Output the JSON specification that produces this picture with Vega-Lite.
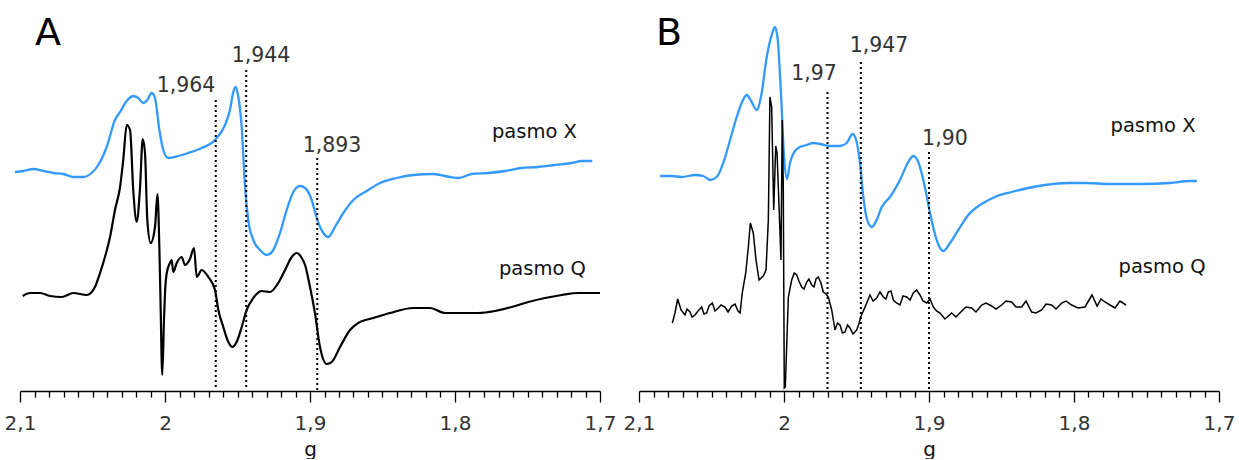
{
  "$schema": "https://vega.github.io/schema/vega-lite/v6.json",
  "padding": {"left": 4, "top": 11, "right": 5, "bottom": 0},
  "spacing": 39,
  "bounds": "flush",
  "config": {"view": {"stroke": null}, "font": "DejaVu Sans"},
  "datasets": {
    "AX": [
      {"g":2.1034,"i":219},{"g":2.0977,"i":220},{"g":2.0908,"i":222},{"g":2.0839,"i":220},{"g":2.0770,"i":218},{"g":2.0701,"i":217},{"g":2.0632,"i":214},{"g":2.0563,"i":214},{"g":2.0506,"i":218},{"g":2.0460,"i":226},{"g":2.0402,"i":244},{"g":2.0345,"i":271},{"g":2.0310,"i":279},{"g":2.0264,"i":290},{"g":2.0219,"i":295},{"g":2.0184,"i":293},{"g":2.0150,"i":288},{"g":2.0122,"i":291},{"g":2.0092,"i":298},{"g":2.0069,"i":293},{"g":2.0039,"i":261},{"g":2.0012,"i":241},{"g":1.9977,"i":233},{"g":1.9908,"i":235},{"g":1.9839,"i":238},{"g":1.9747,"i":243},{"g":1.9655,"i":251},{"g":1.9586,"i":266},{"g":1.9552,"i":281},{"g":1.9529,"i":299},{"g":1.9512,"i":304},{"g":1.9494,"i":294},{"g":1.9471,"i":264},{"g":1.9448,"i":204},{"g":1.9426,"i":171},{"g":1.9391,"i":151},{"g":1.9345,"i":141},{"g":1.9299,"i":136},{"g":1.9253,"i":141},{"g":1.9207,"i":158},{"g":1.9161,"i":181},{"g":1.9115,"i":199},{"g":1.9069,"i":205},{"g":1.9034,"i":203},{"g":1.8988,"i":191},{"g":1.8954,"i":173},{"g":1.8908,"i":158},{"g":1.8874,"i":154},{"g":1.8828,"i":164},{"g":1.8770,"i":178},{"g":1.8701,"i":191},{"g":1.8609,"i":200},{"g":1.8517,"i":208},{"g":1.8402,"i":213},{"g":1.8288,"i":216},{"g":1.8150,"i":217},{"g":1.8034,"i":214},{"g":1.7977,"i":213},{"g":1.7885,"i":217},{"g":1.7770,"i":218},{"g":1.7655,"i":220},{"g":1.7540,"i":223},{"g":1.7426,"i":224},{"g":1.7310,"i":226},{"g":1.7195,"i":228},{"g":1.7126,"i":230},{"g":1.7053,"i":230}
    ],
    "AQ": [
      {"g":2.0981,"i":95},{"g":2.0931,"i":98},{"g":2.0862,"i":98},{"g":2.0793,"i":95},{"g":2.0712,"i":94},{"g":2.0632,"i":98},{"g":2.0540,"i":96},{"g":2.0483,"i":104},{"g":2.0448,"i":118},{"g":2.0414,"i":134},{"g":2.0379,"i":154},{"g":2.0345,"i":181},{"g":2.0310,"i":204},{"g":2.0288,"i":231},{"g":2.0264,"i":266},{"g":2.0241,"i":261},{"g":2.0219,"i":201},{"g":2.0195,"i":169},{"g":2.0172,"i":204},{"g":2.0154,"i":252},{"g":2.0138,"i":238},{"g":2.0122,"i":171},{"g":2.0099,"i":148},{"g":2.0069,"i":164},{"g":2.0052,"i":197},{"g":2.0039,"i":144},{"g":2.0031,"i":91},{"g":2.0019,"i":16},{"g":2.0007,"i":71},{"g":2.0000,"i":98},{"g":1.9988,"i":118},{"g":1.9966,"i":128},{"g":1.9954,"i":131},{"g":1.9943,"i":119},{"g":1.9919,"i":128},{"g":1.9885,"i":134},{"g":1.9862,"i":126},{"g":1.9828,"i":132},{"g":1.9800,"i":143},{"g":1.9781,"i":114},{"g":1.9747,"i":121},{"g":1.9701,"i":114},{"g":1.9655,"i":101},{"g":1.9632,"i":81},{"g":1.9598,"i":64},{"g":1.9563,"i":49},{"g":1.9536,"i":44},{"g":1.9506,"i":49},{"g":1.9471,"i":64},{"g":1.9437,"i":81},{"g":1.9391,"i":93},{"g":1.9333,"i":100},{"g":1.9276,"i":99},{"g":1.9219,"i":108},{"g":1.9172,"i":121},{"g":1.9126,"i":134},{"g":1.9092,"i":138},{"g":1.9057,"i":133},{"g":1.9034,"i":126},{"g":1.9000,"i":104},{"g":1.8966,"i":78},{"g":1.8931,"i":44},{"g":1.8885,"i":27},{"g":1.8850,"i":29},{"g":1.8793,"i":44},{"g":1.8724,"i":61},{"g":1.8667,"i":68},{"g":1.8563,"i":73},{"g":1.8448,"i":78},{"g":1.8288,"i":83},{"g":1.8172,"i":83},{"g":1.8069,"i":78},{"g":1.7954,"i":78},{"g":1.7839,"i":78},{"g":1.7724,"i":80},{"g":1.7609,"i":84},{"g":1.7494,"i":89},{"g":1.7379,"i":93},{"g":1.7264,"i":96},{"g":1.7150,"i":98},{"g":1.7000,"i":98}
    ],
    "BX": [
      {"g":2.0855,"i":215},{"g":2.0774,"i":215},{"g":2.0706,"i":214},{"g":2.0614,"i":216},{"g":2.0557,"i":215},{"g":2.0510,"i":211},{"g":2.0464,"i":214},{"g":2.0419,"i":228},{"g":2.0372,"i":251},{"g":2.0326,"i":274},{"g":2.0292,"i":288},{"g":2.0257,"i":296},{"g":2.0223,"i":289},{"g":2.0188,"i":281},{"g":2.0154,"i":298},{"g":2.0119,"i":334},{"g":2.0085,"i":356},{"g":2.0062,"i":364},{"g":2.0043,"i":351},{"g":2.0021,"i":298},{"g":1.9998,"i":231},{"g":1.9979,"i":212},{"g":1.9959,"i":228},{"g":1.9929,"i":239},{"g":1.9890,"i":244},{"g":1.9843,"i":246},{"g":1.9798,"i":248},{"g":1.9752,"i":247},{"g":1.9683,"i":245},{"g":1.9614,"i":245},{"g":1.9568,"i":248},{"g":1.9526,"i":257},{"g":1.9499,"i":249},{"g":1.9476,"i":228},{"g":1.9453,"i":194},{"g":1.9426,"i":171},{"g":1.9395,"i":164},{"g":1.9361,"i":171},{"g":1.9326,"i":184},{"g":1.9269,"i":194},{"g":1.9200,"i":211},{"g":1.9143,"i":229},{"g":1.9108,"i":235},{"g":1.9074,"i":229},{"g":1.9039,"i":211},{"g":1.8993,"i":178},{"g":1.8947,"i":151},{"g":1.8931,"i":145},{"g":1.8901,"i":140},{"g":1.8855,"i":148},{"g":1.8798,"i":161},{"g":1.8729,"i":176},{"g":1.8637,"i":187},{"g":1.8545,"i":194},{"g":1.8430,"i":199},{"g":1.8315,"i":203},{"g":1.8200,"i":206},{"g":1.8039,"i":208},{"g":1.7924,"i":208},{"g":1.7752,"i":207},{"g":1.7545,"i":207},{"g":1.7338,"i":208},{"g":1.7200,"i":210},{"g":1.7152,"i":210}
    ],
    "BQ": [
      {"g":2.0770,"i":68},{"g":2.0752,"i":78},{"g":2.0733,"i":92},{"g":2.0710,"i":81},{"g":2.0683,"i":76},{"g":2.0669,"i":82},{"g":2.0648,"i":79},{"g":2.0634,"i":74},{"g":2.0614,"i":76},{"g":2.0593,"i":80},{"g":2.0568,"i":84},{"g":2.0552,"i":77},{"g":2.0533,"i":78},{"g":2.0517,"i":85},{"g":2.0494,"i":88},{"g":2.0476,"i":80},{"g":2.0453,"i":83},{"g":2.0434,"i":86},{"g":2.0407,"i":84},{"g":2.0386,"i":79},{"g":2.0361,"i":85},{"g":2.0338,"i":87},{"g":2.0317,"i":80},{"g":2.0303,"i":78},{"g":2.0288,"i":98},{"g":2.0264,"i":118},{"g":2.0246,"i":144},{"g":2.0232,"i":168},{"g":2.0212,"i":158},{"g":2.0193,"i":131},{"g":2.0172,"i":111},{"g":2.0143,"i":115},{"g":2.0124,"i":121},{"g":2.0108,"i":171},{"g":2.0097,"i":294},{"g":2.0085,"i":284},{"g":2.0071,"i":181},{"g":2.0057,"i":245},{"g":2.0048,"i":238},{"g":2.0034,"i":184},{"g":2.0021,"i":131},{"g":2.0012,"i":271},{"g":2.0005,"i":204},{"g":1.9998,"i":3},{"g":1.9991,"i":4},{"g":1.9970,"i":94},{"g":1.9947,"i":111},{"g":1.9929,"i":118},{"g":1.9912,"i":116},{"g":1.9897,"i":110},{"g":1.9878,"i":104},{"g":1.9862,"i":102},{"g":1.9843,"i":109},{"g":1.9828,"i":112},{"g":1.9809,"i":106},{"g":1.9793,"i":104},{"g":1.9779,"i":112},{"g":1.9763,"i":114},{"g":1.9745,"i":108},{"g":1.9729,"i":99},{"g":1.9710,"i":97},{"g":1.9694,"i":94},{"g":1.9671,"i":81},{"g":1.9648,"i":61},{"g":1.9631,"i":68},{"g":1.9614,"i":66},{"g":1.9597,"i":58},{"g":1.9579,"i":59},{"g":1.9562,"i":66},{"g":1.9545,"i":63},{"g":1.9524,"i":57},{"g":1.9499,"i":61},{"g":1.9486,"i":66},{"g":1.9471,"i":74},{"g":1.9441,"i":84},{"g":1.9407,"i":96},{"g":1.9386,"i":90},{"g":1.9361,"i":93},{"g":1.9338,"i":99},{"g":1.9315,"i":94},{"g":1.9297,"i":92},{"g":1.9281,"i":99},{"g":1.9262,"i":100},{"g":1.9246,"i":91},{"g":1.9224,"i":88},{"g":1.9200,"i":86},{"g":1.9179,"i":95},{"g":1.9154,"i":94},{"g":1.9131,"i":91},{"g":1.9108,"i":98},{"g":1.9086,"i":101},{"g":1.9062,"i":96},{"g":1.9041,"i":90},{"g":1.9016,"i":88},{"g":1.8993,"i":92},{"g":1.8970,"i":84},{"g":1.8948,"i":80},{"g":1.8924,"i":78},{"g":1.8890,"i":72},{"g":1.8843,"i":78},{"g":1.8814,"i":74},{"g":1.8774,"i":80},{"g":1.8745,"i":84},{"g":1.8706,"i":83},{"g":1.8676,"i":79},{"g":1.8637,"i":86},{"g":1.8607,"i":88},{"g":1.8568,"i":85},{"g":1.8538,"i":82},{"g":1.8499,"i":86},{"g":1.8469,"i":90},{"g":1.8430,"i":89},{"g":1.8400,"i":84},{"g":1.8361,"i":84},{"g":1.8331,"i":90},{"g":1.8292,"i":79},{"g":1.8262,"i":78},{"g":1.8223,"i":81},{"g":1.8193,"i":87},{"g":1.8154,"i":86},{"g":1.8124,"i":82},{"g":1.8085,"i":88},{"g":1.8055,"i":90},{"g":1.8016,"i":86},{"g":1.7972,"i":83},{"g":1.7924,"i":84},{"g":1.7876,"i":96},{"g":1.7841,"i":85},{"g":1.7814,"i":92},{"g":1.7786,"i":89},{"g":1.7752,"i":86},{"g":1.7717,"i":83},{"g":1.7683,"i":90},{"g":1.7641,"i":86}
    ],
    "rulesA": [{"g":1.965,"top":291},{"g":1.944,"top":321},{"g":1.895,"top":233}],
    "rulesB": [{"g":1.97,"top":299},{"g":1.947,"top":329},{"g":1.90,"top":239}],
    "numA": [{"g":1.9855,"i":299,"label":"1,964"},{"g":1.9338,"i":329,"label":"1,944"},{"g":1.8848,"i":239,"label":"1,893"}],
    "numB": [{"g":1.9793,"i":311,"label":"1,97"},{"g":1.9345,"i":339,"label":"1,947"},{"g":1.889,"i":246,"label":"1,90"}],
    "bandA": [{"g":1.7452,"i":253,"label":"pasmo X"},{"g":1.7397,"i":116,"label":"pasmo Q"}],
    "bandB": [{"g":1.7455,"i":259,"label":"pasmo X"},{"g":1.7393,"i":118,"label":"pasmo Q"}],
    "letterA": [{"g":2.0807,"i":346,"label":"A"}],
    "letterB": [{"g":2.0793,"i":346,"label":"B"}]
  },
  "hconcat": [
    {
      "width": 580, "height": 380,
      "encoding": {
        "x": {"field": "g", "type": "quantitative",
          "scale": {"domain": [2.1, 1.7], "nice": false, "zero": false},
          "axis": {"values": [2.1,2.09,2.08,2.07,2.06,2.05,2.04,2.03,2.02,2.01,2.0,1.99,1.98,1.97,1.96,1.95,1.94,1.93,1.92,1.91,1.9,1.89,1.88,1.87,1.86,1.85,1.84,1.83,1.82,1.81,1.8,1.79,1.78,1.77,1.76,1.75,1.74,1.73,1.72,1.71,1.7],
            "labelExpr": "abs(datum.value*10 - round(datum.value*10)) < 0.001 ? replace(format(datum.value, '.1~f'), '.', ',') : ''",
            "tickSize": {"condition": {"test": "abs(datum.value*10 - round(datum.value*10)) < 0.001", "value": 11}, "value": 6},
            "grid": false, "domainColor": "#000000", "domainWidth": 1.5, "tickColor": "#000000", "tickWidth": 1.3,
            "labelFontSize": 20, "labelColor": "#333333", "labelPadding": 11, "labelOverlap": false, "labelFlush": false,
            "title": "g", "titleFontSize": 20, "titleFontWeight": "normal", "titleColor": "#111111", "titlePadding": 6}},
        "y": {"field": "i", "type": "quantitative", "scale": {"domain": [0, 380], "nice": false, "zero": false}, "axis": null}
      },
      "layer": [
        {"data": {"name": "AX"}, "mark": {"type": "line", "color": "#3399ff", "strokeWidth": 2.3, "interpolate": "monotone", "clip": false}},
        {"data": {"name": "AQ"}, "mark": {"type": "line", "color": "#000000", "strokeWidth": 2.2, "interpolate": "monotone", "clip": false}},
        {"data": {"name": "rulesA"}, "mark": {"type": "rule", "color": "#000000", "strokeWidth": 2, "strokeDash": [2, 3]},
          "encoding": {"y": {"field": "top", "type": "quantitative"}, "y2": {"datum": 1}}},
        {"data": {"name": "numA"}, "mark": {"type": "text", "fontSize": 20.5, "color": "#333333", "baseline": "alphabetic", "align": "center"},
          "encoding": {"text": {"field": "label"}}},
        {"data": {"name": "bandA"}, "mark": {"type": "text", "fontSize": 19.5, "color": "#111111", "baseline": "alphabetic", "align": "center"},
          "encoding": {"text": {"field": "label"}}},
        {"data": {"name": "letterA"}, "mark": {"type": "text", "fontSize": 38, "color": "#000000", "baseline": "alphabetic", "align": "center"},
          "encoding": {"text": {"field": "label"}}}
      ]
    },
    {
      "width": 580, "height": 380,
      "encoding": {
        "x": {"field": "g", "type": "quantitative",
          "scale": {"domain": [2.1, 1.7], "nice": false, "zero": false},
          "axis": {"values": [2.1,2.09,2.08,2.07,2.06,2.05,2.04,2.03,2.02,2.01,2.0,1.99,1.98,1.97,1.96,1.95,1.94,1.93,1.92,1.91,1.9,1.89,1.88,1.87,1.86,1.85,1.84,1.83,1.82,1.81,1.8,1.79,1.78,1.77,1.76,1.75,1.74,1.73,1.72,1.71,1.7],
            "labelExpr": "abs(datum.value*10 - round(datum.value*10)) < 0.001 ? replace(format(datum.value, '.1~f'), '.', ',') : ''",
            "tickSize": {"condition": {"test": "abs(datum.value*10 - round(datum.value*10)) < 0.001", "value": 11}, "value": 6},
            "grid": false, "domainColor": "#000000", "domainWidth": 1.5, "tickColor": "#000000", "tickWidth": 1.3,
            "labelFontSize": 20, "labelColor": "#333333", "labelPadding": 11, "labelOverlap": false, "labelFlush": false,
            "title": "g", "titleFontSize": 20, "titleFontWeight": "normal", "titleColor": "#111111", "titlePadding": 6}},
        "y": {"field": "i", "type": "quantitative", "scale": {"domain": [0, 380], "nice": false, "zero": false}, "axis": null}
      },
      "layer": [
        {"data": {"name": "BX"}, "mark": {"type": "line", "color": "#3399ff", "strokeWidth": 2.3, "interpolate": "monotone", "clip": false}},
        {"data": {"name": "BQ"}, "mark": {"type": "line", "color": "#000000", "strokeWidth": 1.5, "clip": false}},
        {"data": {"name": "rulesB"}, "mark": {"type": "rule", "color": "#000000", "strokeWidth": 2, "strokeDash": [2, 3]},
          "encoding": {"y": {"field": "top", "type": "quantitative"}, "y2": {"datum": 1}}},
        {"data": {"name": "numB"}, "mark": {"type": "text", "fontSize": 20.5, "color": "#333333", "baseline": "alphabetic", "align": "center"},
          "encoding": {"text": {"field": "label"}}},
        {"data": {"name": "bandB"}, "mark": {"type": "text", "fontSize": 19.5, "color": "#111111", "baseline": "alphabetic", "align": "center"},
          "encoding": {"text": {"field": "label"}}},
        {"data": {"name": "letterB"}, "mark": {"type": "text", "fontSize": 38, "color": "#000000", "baseline": "alphabetic", "align": "center"},
          "encoding": {"text": {"field": "label"}}}
      ]
    }
  ]
}
